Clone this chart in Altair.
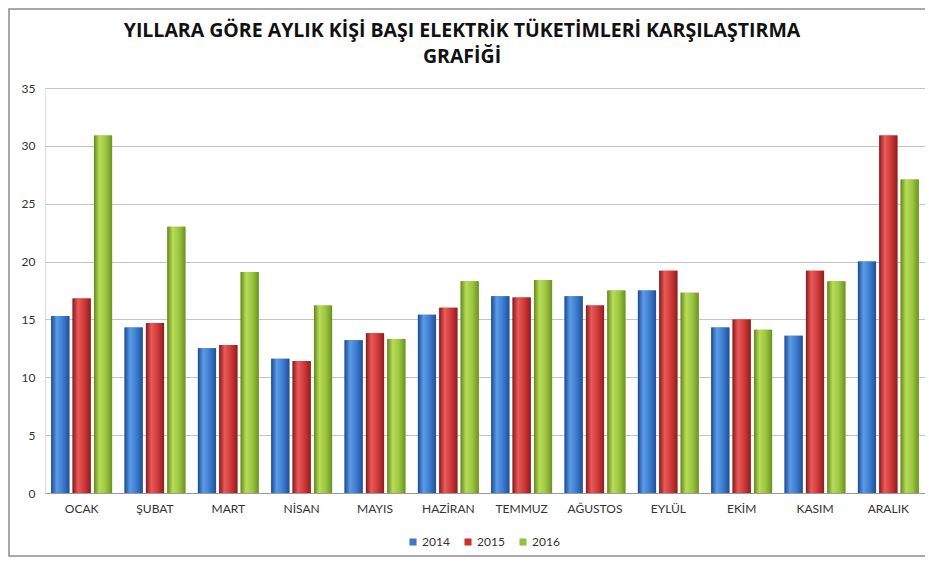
import altair as alt
import pandas as pd

months = ["OCAK", "ŞUBAT", "MART", "NİSAN", "MAYIS", "HAZİRAN", "TEMMUZ",
          "AĞUSTOS", "EYLÜL", "EKİM", "KASIM", "ARALIK"]
years = ["2014", "2015", "2016"]
v2014 = [15.3, 14.3, 12.5, 11.6, 13.2, 15.4, 17.0, 17.0, 17.5, 14.3, 13.6, 20.0]
v2015 = [16.8, 14.7, 12.8, 11.4, 13.8, 16.0, 16.9, 16.2, 19.2, 15.0, 19.2, 30.9]
v2016 = [30.9, 23.0, 19.1, 16.2, 13.3, 18.3, 18.4, 17.5, 17.3, 14.1, 18.3, 27.1]
y_ticks = [0, 5, 10, 15, 20, 25, 30, 35]
title_lines = ["YILLARA GÖRE AYLIK KİŞİ BAŞI ELEKTRİK TÜKETİMLERİ KARŞILAŞTIRMA", "GRAFİĞİ"]

rows = []
for yr, vals in zip(years, [v2014, v2015, v2016]):
    for m, v in zip(months, vals):
        rows.append({"month": m, "year": yr, "value": v})
df = pd.DataFrame(rows)

solid = ["#3c78c8", "#c83232", "#92bf3c"]
grad_stops = {
    "2014": ["#1c4a8e", "#5b9be6", "#3b7ccf", "#224f96"],
    "2015": ["#861a1a", "#ea5a5a", "#cf3838", "#8e1e1e"],
    "2016": ["#62871c", "#b8dc58", "#9cc640", "#6a9222"],
}

def grad(cols):
    return alt.Gradient(
        gradient="linear",
        stops=[alt.GradientStop(color=cols[0], offset=0),
               alt.GradientStop(color=cols[1], offset=0.3),
               alt.GradientStop(color=cols[2], offset=0.65),
               alt.GradientStop(color=cols[3], offset=1)],
        x1=0, x2=1, y1=0, y2=0)

W, H = 880, 405

base = alt.Chart(df).encode(
    x=alt.X("month:N", sort=months, title=None,
            scale=alt.Scale(paddingInner=0.17, paddingOuter=0.085),
            axis=alt.Axis(labelAngle=0, labelPadding=10, ticks=False,
                          domainColor="#9a9a9a", labelFontSize=12,
                          labelColor="#333333", labelFont="Lato")),
    xOffset=alt.XOffset("year:N", scale=alt.Scale(domain=years, paddingInner=0.15)),
    y=alt.Y("value:Q", title=None,
            scale=alt.Scale(domain=[0, 35], nice=False),
            axis=alt.Axis(values=y_ticks, domain=False, ticks=False, labelPadding=10,
                          gridColor="#c4c4c4", labelFontSize=12,
                          labelColor="#333333", labelFont="Lato")),
)

legend_layer = base.mark_bar().encode(
    color=alt.Color("year:N", scale=alt.Scale(domain=years, range=solid),
                    legend=alt.Legend(title=None, orient="none", direction="horizontal",
                                      legendX=362, legendY=448, symbolType="square",
                                      symbolSize=50, labelFontSize=12, labelFont="Lato",
                                      labelColor="#333333", columnPadding=12,
                                      symbolStrokeWidth=0, labelOffset=3))
)

layers = [legend_layer]
for yr in years:
    layers.append(
        base.transform_filter(alt.datum.year == yr).mark_bar(fill=grad(grad_stops[yr]))
    )

frame = alt.Chart(pd.DataFrame({"a": [0]})).mark_rect(
    fillOpacity=0, stroke="#8c8c8c", strokeWidth=1.5
).encode(x=alt.value(-36), x2=alt.value(900), y=alt.value(-79), y2=alt.value(468))

chart = alt.layer(frame, *layers).properties(
    width=W, height=H,
    title=alt.TitleParams(title_lines, fontSize=19.5, font="Open Sans", fontWeight="bold",
                          color="#111111", anchor="middle", dx=-23, offset=0, dy=59,
                          lineHeight=26),
    autosize=alt.AutoSizeParams(type="none"),
    padding={"left": 37, "top": 80, "right": 0, "bottom": 64},
).configure_view(stroke=None).configure(background="white")

chart.save("out.html", embed_options={"renderer": "svg", "actions": False})
